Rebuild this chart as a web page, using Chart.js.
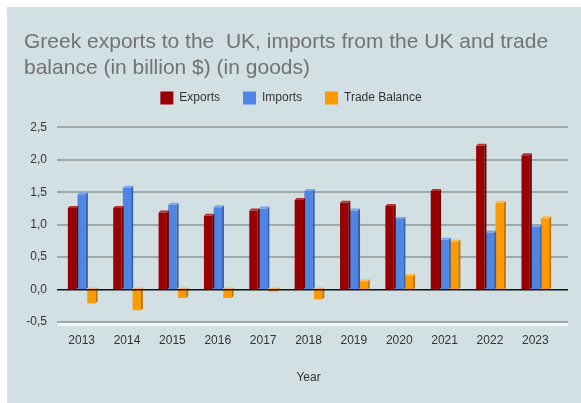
<!DOCTYPE html>
<html>
<head>
<meta charset="utf-8">
<script src="https://cdn.jsdelivr.net/npm/chart.js@4/dist/chart.umd.min.js"></script>
<style>
  html, body { margin: 0; padding: 0; background: #ffffff; }
  #frame {
    position: absolute; left: 7px; top: 7px; width: 574px; height: 396px;
    background: #d2e0e3;
  }
  canvas { display: block; }
</style>
</head>
<body>
<div id="frame"><canvas id="c" width="574" height="396"></canvas></div>
<script>
// Greek trade in goods with the UK, billion $
const years = ['2013', '2014', '2015', '2016', '2017', '2018', '2019', '2020', '2021', '2022', '2023'];
const exportsUK = [1.26, 1.26, 1.19, 1.14, 1.22, 1.38, 1.34, 1.29, 1.52, 2.22, 2.07];
const importsUK = [1.47, 1.57, 1.31, 1.27, 1.25, 1.52, 1.22, 1.09, 0.77, 0.88, 0.97];
const tradeBalance = [-0.21, -0.32, -0.13, -0.13, -0.03, -0.15, 0.13, 0.21, 0.74, 1.34, 1.10];
const yTicks = [-0.5, 0, 0.5, 1, 1.5, 2, 2.5];

const titleLines = ['Greek exports to the  UK, imports from the UK and trade', 'balance (in billion $) (in goods)'];

const FONT = "'Liberation Sans', Arial, sans-serif";

const palette = {
  exports: { front: '#990000', side: '#660000', top: '#b83030' },
  imports: { front: '#4f86e4', side: '#3560ae', top: '#79a5ef' },
  balance: { front: '#ff9900', side: '#c27400', top: '#ffb84a' }
};

const fmt = v => v.toFixed(1).replace('.', ',');

// Horizontal value lines, running a little past the plot's right edge like a 3D floor
const gridPlugin = {
  id: 'valueGrid',
  beforeDatasetsDraw(chart) {
    const { ctx, chartArea, scales } = chart;
    const y = scales.y;
    ctx.save();
    yTicks.forEach(v => {
      const py = Math.round(y.getPixelForValue(v));
      if (v === 0) return;
      if (v === yTicks[0]) {
        ctx.fillStyle = '#f4f7f7';
        ctx.fillRect(chartArea.left - 1, py + 1, chartArea.right - chartArea.left + 11, 3);
      }
      ctx.fillStyle = '#9ea8a8';
      ctx.fillRect(chartArea.left - 2, py - 1, chartArea.right - chartArea.left + 12, 2);
    });
    ctx.restore();
  },
  afterDatasetsDraw(chart) {
    const { ctx, chartArea, scales } = chart;
    const py = Math.round(scales.y.getPixelForValue(0));
    ctx.save();
    ctx.fillStyle = '#111111';
    ctx.fillRect(chartArea.left - 2, py - 1, chartArea.right - chartArea.left + 12, 1.5);
    ctx.restore();
  }
};

// Side and top faces give each bar a shallow 3D look
const depthPlugin = {
  id: 'barDepth',
  afterDatasetDraw(chart, args) {
    const meta = chart.getDatasetMeta(args.index);
    const colors = chart.data.datasets[args.index].faces;
    const { ctx } = chart;
    const d = 2;
    ctx.save();
    meta.data.forEach(bar => {
      const { x, y, base, width } = bar.getProps(['x', 'y', 'base', 'width'], true);
      const l = x - width / 2, r = x + width / 2;
      const top = Math.min(y, base), bottom = Math.max(y, base);
      ctx.fillStyle = colors.side;
      ctx.beginPath();
      ctx.moveTo(r, top); ctx.lineTo(r + d, top - d); ctx.lineTo(r + d, bottom - d); ctx.lineTo(r, bottom);
      ctx.closePath(); ctx.fill();
      ctx.fillStyle = colors.top;
      ctx.beginPath();
      ctx.moveTo(l, top); ctx.lineTo(l + d, top - d); ctx.lineTo(r + d, top - d); ctx.lineTo(r, top);
      ctx.closePath(); ctx.fill();
    });
    ctx.restore();
  }
};

const series = [
  { label: 'Exports', data: exportsUK, c: palette.exports },
  { label: 'Imports', data: importsUK, c: palette.imports },
  { label: 'Trade Balance', data: tradeBalance, c: palette.balance }
];

new Chart(document.getElementById('c'), {
  type: 'bar',
  data: {
    labels: years,
    datasets: series.map(s => ({
      label: s.label,
      data: s.data,
      backgroundColor: s.c.front,
      borderWidth: 0,
      faces: s.c,
      categoryPercentage: 0.64,
      barPercentage: 0.86
    }))
  },
  options: {
    responsive: false,
    animation: false,
    layout: { padding: { left: 17, right: 23, top: 0, bottom: 0 } },
    plugins: {
      title: {
        display: true,
        text: titleLines,
        align: 'start',
        color: '#727272',
        font: { family: FONT, size: 21, weight: 'normal', lineHeight: 1.238 },
        padding: { top: 22, bottom: -12.5 }
      },
      legend: {
        display: true,
        labels: {
          color: '#333333',
          font: { family: FONT, size: 12 },
          boxWidth: 13,
          boxHeight: 13,
          padding: 23
        }
      },
      tooltip: { enabled: false }
    },
    scales: {
      x: {
        grid: { display: false, drawTicks: false },
        border: { display: false },
        ticks: { color: '#333333', font: { family: FONT, size: 12 }, padding: 11 },
        title: { display: true, text: 'Year', color: '#333333', font: { family: FONT, size: 12 }, padding: { top: 0, bottom: 18 } },
        afterFit(scale) { scale.height = 81; }
      },
      // empty band between the legend and the plot
      gap: {
        type: 'category',
        position: 'top',
        grid: { display: false, drawTicks: false },
        border: { display: false },
        ticks: { display: false },
        afterFit(scale) { scale.height = 13; }
      },
      y: {
        min: -0.5,
        max: 2.5,
        afterBuildTicks(scale) { scale.ticks = yTicks.map(v => ({ value: v })); },
        grid: { display: false, drawTicks: false },
        border: { display: false },
        ticks: { color: '#333333', font: { family: FONT, size: 12 }, padding: 12, callback: v => fmt(v) },
        afterFit(scale) { scale.width = 35; }
      }
    }
  },
  plugins: [gridPlugin, depthPlugin]
});
</script>
</body>
</html>
